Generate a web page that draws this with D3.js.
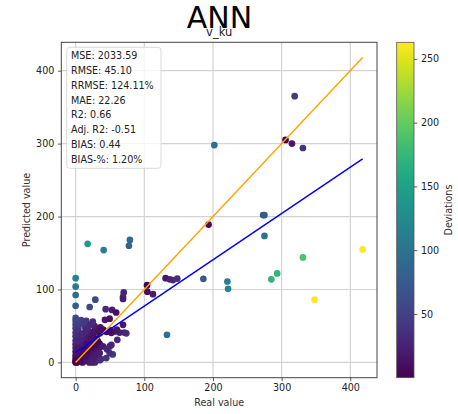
<!DOCTYPE html>
<html>
<head>
<meta charset="utf-8">
<script src="https://cdn.jsdelivr.net/npm/d3@7"></script>
<style>
body { margin: 0; background: #fff; }
text { font-family: "DejaVu Sans", sans-serif; }
</style>
</head>
<body>
<div id="chart"></div>
<script>
// real (x) and predicted (y) values
var realValues = [
  0, 0, 0, 0, 0, 0, 0, 0, 0, 0, 0, 0, 0, 0, 0, 0, 0, 0, 0,
  2, 4, 5, 7, 8, 10, 10, 12, 13, 15, 15, 16, 18, 18, 20, 20, 21, 23, 24, 25,
  26, 27, 28, 28, 30, 30, 32, 33, 35, 35, 6, 9, 11, 4, 3, 14, 6, 19, 8, 12,
  17, 22, 1, 3, 24, 26, 31, 34, 29, 16,
  37, 44.6, 54, 49.5, 60.7, 35, 73.8, 71, 64, 57, 52, 69, 43.7, 53, 59, 42.7,
  15.5, 49.5, 69, 69, 70, 28.6, 20.4, 27.7, 40, 45, 50, 36, 33, 60, 8, 12, 22, 25,
  32.5, 39.8, 35, 49.5, 52, 45.6,
  104, 104.4, 112.6, 131, 137, 141.7, 148, 133, 186, 193.6, 202, 221, 222,
  273, 275, 275, 285, 293.5, 331, 348, 418, 305.7, 315, 331, 319,
  17.5, 40.8, 79, 77.6
];
var predictedValues = [
  115.5, 104, 92.5, 77.7, 61, 57, 52, 47, 41, 36, 30, 25, 20, 15, 10, 6, 3, 1, 0,
  0, 2, 8, 4, 14, 0, 20, 6, 28, 2, 12, 35, 8, 22, 0, 16, 42, 5, 28, 12,
  38, 20, 0, 45, 8, 32, 18, 26, 3, 40, 25, 32, 40, 45, 18, 48, 52, 50, 38, 16,
  26, 33, 12, 30, 0, 6, 12, 20, 24, 44,
  4.6, 6, 11, 22, 31, 25.6, 40, 41, 41, 42.5, 40.6, 51.6, 73, 72, 68.5, 58.4,
  57, 60, 87, 90, 96, 86, 76, 50, 45, 42, 44, 48, 44, 45, 58, 55, 52, 56,
  28.8, 22, 12.8, 12.8, 24, 18,
  106, 97, 93.6, 115.5, 114, 113, 115, 38, 114.6, 189, 298, 111, 101,
  202, 202, 173.5, 114, 122, 144, 86, 155, 305, 300, 294, 365,
  162.6, 154, 168, 160
];
var identityX = [0, 418];
var identityY = [0, 418];
var fitX = [0, 418];
var fitY = [13.7, 279];
var axisTicks = [0, 100, 200, 300, 400];
var colorTicks = [50, 100, 150, 200, 250];
var metricLines = ["MSE: 2033.59", "RMSE: 45.10", "RRMSE: 124.11%", "MAE: 22.26",
  "R2: 0.66", "Adj. R2: -0.51", "BIAS: 0.44", "BIAS-%: 1.20%"];

var svgWidth = 458, svgHeight = 414;
var plot = {left: 61.3, right: 377, top: 42.3, bottom: 377.7};
var cbar = {left: 396.7, right: 414, top: 42.3, bottom: 377.7};

var points = realValues.map(function(r, i) {
  return {x: r, y: predictedValues[i], dev: Math.abs(predictedValues[i] - r)};
});

var svg = d3.select('#chart').append('svg')
  .attr('width', svgWidth).attr('height', svgHeight);

// matplotlib style 5% margins
function padded(lo, hi) {
  var p = (hi - lo) * 0.05;
  return [lo - p, hi + p];
}
var xMin = d3.min(realValues.concat(identityX, fitX)), xMax = d3.max(realValues.concat(identityX, fitX));
var yMin = d3.min(predictedValues.concat(identityY, fitY)), yMax = d3.max(predictedValues.concat(identityY, fitY));

var x = d3.scaleLinear().domain(padded(xMin, xMax)).range([plot.left, plot.right]);
var y = d3.scaleLinear().domain(padded(yMin, yMax)).range([plot.bottom, plot.top]);

var devExtent = d3.extent(points, d => d.dev);
var color = d3.scaleSequential(d3.interpolateViridis).domain(devExtent);

// grid
var grid = svg.append('g');
grid.selectAll('.gx').data(axisTicks).enter().append('line')
  .attr('x1', d => x(d)).attr('x2', d => x(d))
  .attr('y1', plot.top).attr('y2', plot.bottom)
  .attr('stroke', '#d3d3d3').attr('stroke-width', 1.2);
grid.selectAll('.gy').data(axisTicks).enter().append('line')
  .attr('y1', d => y(d)).attr('y2', d => y(d))
  .attr('x1', plot.left).attr('x2', plot.right)
  .attr('stroke', '#d3d3d3').attr('stroke-width', 1.2);

// points
svg.append('g').selectAll('circle')
  .data(points).enter().append('circle')
  .attr('cx', d => x(d.x))
  .attr('cy', d => y(d.y))
  .attr('r', 3.35)
  .attr('fill', d => color(d.dev));

// lines
var line = d3.line().x(d => x(d[0])).y(d => y(d[1]));
svg.append('path')
  .attr('d', line(d3.zip(identityX, identityY)))
  .attr('stroke', 'orange').attr('stroke-width', 1.45).attr('fill', 'none');
svg.append('path')
  .attr('d', line(d3.zip(fitX, fitY)))
  .attr('stroke', 'blue').attr('stroke-width', 1.45).attr('fill', 'none');

// axes
var xAxis = svg.append('g')
  .attr('transform', `translate(0,${plot.bottom})`)
  .call(d3.axisBottom(x).tickValues(axisTicks).tickSize(3.4).tickPadding(3.5));
var yAxis = svg.append('g')
  .attr('transform', `translate(${plot.left},0)`)
  .call(d3.axisLeft(y).tickValues(axisTicks).tickSize(3.4).tickPadding(3.5));
[xAxis, yAxis].forEach(function(a) {
  a.select('.domain').remove();
  a.selectAll('line').attr('stroke', '#333').attr('stroke-width', 0.8);
  a.selectAll('text').attr('font-size', '9.6px').attr('fill', '#222')
    .attr('font-family', '"DejaVu Sans", sans-serif');
});

svg.append('rect')
  .attr('x', plot.left).attr('y', plot.top)
  .attr('width', plot.right - plot.left).attr('height', plot.bottom - plot.top)
  .attr('fill', 'none').attr('stroke', '#444').attr('stroke-width', 1);

// metrics box
var box = svg.append('g');
box.append('rect')
  .attr('x', 66.7).attr('y', 47.3).attr('width', 94.3).attr('height', 121)
  .attr('rx', 3).attr('fill', '#fff').attr('fill-opacity', 0.8)
  .attr('stroke', '#d0d0d0').attr('stroke-width', 0.8);
box.selectAll('text').data(metricLines).enter().append('text')
  .attr('x', 71).attr('y', (d, i) => 59.3 + i * 14.77)
  .attr('font-size', '9.6px').attr('fill', '#222')
  .text(d => d);

// titles and labels
svg.append('text').attr('x', 219.5).attr('y', 27.8).attr('text-anchor', 'middle')
  .attr('font-size', '30px').attr('fill', '#000').text('ANN');
svg.append('text').attr('x', 219.2).attr('y', 35.8).attr('text-anchor', 'middle')
  .attr('font-size', '11.5px').attr('fill', '#222').text('v_ku');
svg.append('text').attr('x', (plot.left + plot.right) / 2).attr('y', 405.5)
  .attr('text-anchor', 'middle').attr('font-size', '9.6px').attr('fill', '#333')
  .text('Real value');
svg.append('text')
  .attr('transform', `translate(29.8,${(plot.top + plot.bottom) / 2}) rotate(-90)`)
  .attr('text-anchor', 'middle').attr('font-size', '9.6px').attr('fill', '#333')
  .text('Predicted value');

// colorbar
var defs = svg.append('defs');
var grad = defs.append('linearGradient').attr('id', 'cbgrad')
  .attr('x1', 0).attr('y1', 1).attr('x2', 0).attr('y2', 0);
d3.range(0, 1.0001, 0.05).forEach(function(t) {
  grad.append('stop').attr('offset', t).attr('stop-color', d3.interpolateViridis(t));
});
svg.append('rect')
  .attr('x', cbar.left).attr('y', cbar.top)
  .attr('width', cbar.right - cbar.left).attr('height', cbar.bottom - cbar.top)
  .attr('fill', 'url(#cbgrad)').attr('stroke', '#555').attr('stroke-width', 0.8);
var cy = d3.scaleLinear().domain(devExtent).range([cbar.bottom, cbar.top]);
var cAxis = svg.append('g')
  .attr('transform', `translate(${cbar.right},0)`)
  .call(d3.axisRight(cy).tickValues(colorTicks).tickSize(3.4).tickPadding(3.5));
cAxis.select('.domain').remove();
cAxis.selectAll('line').attr('stroke', '#333').attr('stroke-width', 0.8);
cAxis.selectAll('text').attr('font-size', '9.6px').attr('fill', '#222')
  .attr('font-family', '"DejaVu Sans", sans-serif');
svg.append('text')
  .attr('transform', `translate(452,${(cbar.top + cbar.bottom) / 2}) rotate(-90)`)
  .attr('text-anchor', 'middle').attr('font-size', '9.6px').attr('fill', '#333')
  .text('Deviations');
</script>
</body>
</html>
